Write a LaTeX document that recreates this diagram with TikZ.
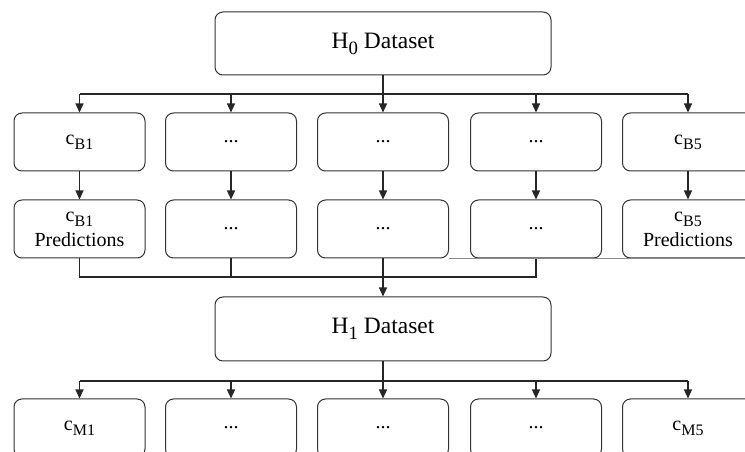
\documentclass[tikz,border=0pt]{standalone}
\usepackage{fontspec}
\setmainfont{Liberation Serif}
\usetikzlibrary{arrows.meta}
\newcommand\mysub[1]{\raisebox{-0.25em}{\scalebox{0.8}{#1}}}
\tikzset{
  box/.style={draw=black!80, line width=1pt, rounded corners=8pt, minimum width=131pt, minimum height=58pt, inner sep=0pt, align=center, font=\fontsize{20}{24}\selectfont},
  bigbox/.style={box, minimum width=336pt, minimum height=63pt, font=\fontsize{23.5}{28}\selectfont},
  conn/.style={draw=black!85, line width=1.1pt},
  arr/.style={conn, -{Triangle[length=9pt,width=8pt]}}
}
\begin{document}
\begin{tikzpicture}[x=1pt,y=1pt]
\useasboundingbox (0,0) rectangle (745,452);
\clip (0,0) rectangle (745,452);
\fill[white] (0,0) rectangle (745,452);
% top dataset
\node[bigbox] (h0) at (383,408.5) {H\mysub{0} Dataset};
% row 1
\node[box] (a1) at (79.5,310) {c\mysub{B1}};
\node[box] (a2) at (231,310) {...};
\node[box] (a3) at (383,310) {...};
\node[box] (a4) at (536,310) {...};
\node[box] (a5) at (688,310) {c\mysub{B5}};
% row 2
\node[box] (b1) at (79.5,223) {c\mysub{B1}\\[1pt]Predictions};
\node[box] (b2) at (231,223) {...};
\node[box] (b3) at (383,223) {...};
\node[box] (b4) at (536,223) {...};
\node[box] (b5) at (688,223) {c\mysub{B5}\\[1pt]Predictions};
% H1
\node[bigbox, minimum height=64pt] (h1) at (383,123) {H\mysub{1} Dataset};
% row 3
\node[box] (m1) at (79.5,24) {c\mysub{M1}};
\node[box] (m2) at (231,24) {...};
\node[box] (m3) at (383,24) {...};
\node[box] (m4) at (536,24) {...};
\node[box] (m5) at (688,24) {c\mysub{M5}};
% bus 1
\coordinate (s1) at (383,358);
\draw[conn] (h0.south) -- (s1);
\draw[conn] (a1.north |- s1) -- (a5.north |- s1);
\foreach \i in {1,...,5} {\draw[arr] (a\i.north |- s1) -- (a\i.north);}
% row1 -> row2
\foreach \i in {1,...,5} {\draw[arr] (a\i.south) -- (b\i.north);}
% bus 2
\coordinate (s2) at (383,175);
\draw[conn] (b1.south) -- (b1.south |- s2) -- (b4.south |- s2) -- (b4.south);
\draw[conn] (b2.south) -- (b2.south |- s2);
\draw[conn] (b3.south) -- (b3.south |- s2);
\draw[arr] (s2) -- (h1.north);
\draw[draw=black!45, line width=0.6pt] (b3.south east) -- (b5.south east);
% bus 3
\coordinate (s3) at (383,71);
\draw[conn] (h1.south) -- (s3);
\draw[conn] (m1.north |- s3) -- (m5.north |- s3);
\foreach \i in {1,...,5} {\draw[arr] (m\i.north |- s3) -- (m\i.north);}
\end{tikzpicture}
\end{document}
